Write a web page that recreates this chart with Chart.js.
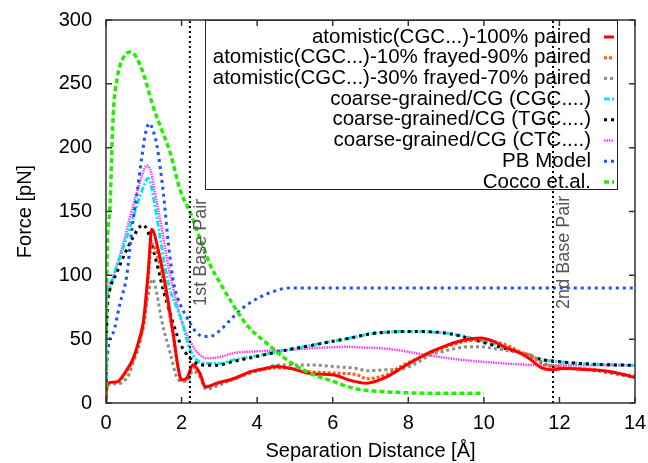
<!DOCTYPE html>
<html>
<head>
<meta charset="utf-8">
<script src="https://cdn.jsdelivr.net/npm/chart.js@4/dist/chart.umd.min.js"></script>
<style>
  html, body { margin: 0; padding: 0; background: #fff; }
  canvas { display: block; }
</style>
</head>
<body>
<canvas id="chartCanvas" width="648" height="463"></canvas>
<script>
// values (x = separation in Å, y = force in pN)
const atom100X = [0,0.03,0.28,0.55,0.72,0.9,0.99,1.12,1.21,1.39,1.61,1.79,1.92,2.0,2.14,2.3,2.49,2.63,2.93,3.37,3.82,4.2,4.53,4.9,5.41,6.03,6.43,6.9,7.4,7.88,8.2,8.59,9.0,9.3,9.6,9.92,10.2,10.54,10.98,11.24,11.53,11.8,12.08,12.8,13.36,14];
const atom100Y = [0,15.5,16.5,26,35,52,64,104,136,119,86,52,26,18,19.5,30,23,12.5,15.5,19,24.5,27,28.5,27,23,22,18,15.5,20,28.5,34,40,45,48,50,51,49,44,38.8,34,27.5,26,27,26,24.5,20];

const frayed10X = [0,0.03,0.28,0.55,0.72,0.9,1.0,1.12,1.2,1.39,1.61,1.79,1.92,2.0,2.14,2.3,2.49,2.63,2.93,3.37,3.82,4.2,4.53,4.9,5.41,6.03,6.65,6.9,7.4,7.88,8.59,9.0,9.47,9.92,10.54,10.98,11.24,11.6,12.0,12.8,13.4,14];
const frayed10Y = [0,15,16,25,34,50,62,98,125,112,82,50,25,18,19,28,22,12.5,15,18.5,24,26.5,27.5,27,24.5,23.5,22,19,22,30,39,44,48,49.3,46,40,37,30,28,26.5,24,21];

const frayed30X = [0,0.03,0.3,0.6,0.72,0.85,1.0,1.1,1.23,1.35,1.47,1.7,1.87,2.0,2.15,2.3,2.45,2.65,3.0,3.37,3.8,4.2,4.53,5.0,5.41,6.03,6.65,6.9,7.4,7.88,8.2,8.59,9.0,9.3,9.6,9.92,10.2,10.54,10.9,11.24,11.6,12.1,12.8,13.4,14];
const frayed30Y = [0,14,15,22,32,42,62,82,97,85,65,39,20.6,17,17,25,22,11,14,19,23,27,29.8,29.8,29.8,28.5,27,25.3,26,27,31,37.6,41,43,44,44,43,41.5,39.5,37.6,31,28,26,23,20];

const cgcX = [0,0.02,0.06,0.28,0.55,0.81,1.0,1.12,1.3,1.43,1.56,1.7,1.87,2.0,2.23,2.49,2.76,3.02,3.37,4.0,4.79,5.5,5.94,6.43,7.09,8.15,9.03,9.5,9.92,10.4,10.98,11.53,11.9,12.8,14];
const cgcY = [0,80,88,107,130,154,170,176,154,130,107,88,75,65,41.5,32,31,31,33.7,37,41.5,45.5,48,50.7,54.6,56,54.6,52,49,45,39.3,34,32.6,30.5,29.5];

const tgcX = [0,0.02,0.1,0.28,0.5,0.72,0.97,1.1,1.25,1.39,1.5,1.7,1.96,2.23,2.5,2.8,3.02,3.37,4.0,4.79,5.5,5.94,6.43,7.09,8.15,9.03,9.5,9.92,10.4,10.98,11.53,11.9,12.8,14];
const tgcY = [0,60,88.5,101.6,117,130,139.4,135,120,104,90,70,47,35,30,29.5,29.8,32.5,36.5,41.5,45.5,48,50.7,54.6,56,54.6,51.5,48,44,39.3,34,32.6,30.5,29.5];

const ctcX = [0,0.02,0.1,0.28,0.46,0.64,0.81,0.95,1.08,1.2,1.3,1.47,1.65,1.79,2.0,2.31,2.49,2.67,3.02,3.37,4.0,4.79,5.5,6.43,6.73,7.2,7.7,8.5,9.47,10.3,11.24,12,13,14];
const ctcY = [0,90,94,107,125,146,164,178,186,180,164,138,107,88,64,44,37.6,35,36,39,40.5,41.5,43,44,43.5,43,41.5,37.5,33.6,31.5,29.8,29.5,29.5,29.5];

const pbX = [0,0.02,0.19,0.37,0.55,0.68,0.81,0.95,1.05,1.15,1.25,1.34,1.52,1.65,1.79,1.89,2.14,2.4,2.6,2.8,3.02,3.29,3.6,4.08,4.5,4.79,5.2,6,8,10,12,14];
const pbY = [0,30,55,78,100,135,162,193,212,219,213,203,164,125,94,83,67,55,52,52.5,57,65,74,83,88,90,90,90,90,90,90,90];

const coccoX = [0,0.02,0.1,0.19,0.3,0.45,0.65,0.8,1.0,1.25,1.5,1.7,1.96,2.23,2.5,2.76,3.0,3.3,3.73,4.26,4.79,5.41,6.03,6.56,7.08,8.0,9.0,10.0];
const coccoY = [0,99,151,225,255,270,275,271,257,232,212,196,167,149,128,108,95,80,61,46.7,33.7,23.2,16.7,11.5,9.4,8,7.6,7.6];

const seriesLabels = [
    'atomistic(CGC...)-100% paired',
    'atomistic(CGC...)-10% frayed-90% paired',
    'atomistic(CGC...)-30% frayed-70% paired',
    'coarse-grained/CG (CGC....)',
    'coarse-grained/CG (TGC....)',
    'coarse-grained/CG (CTC....)',
    'PB Model',
    'Cocco et.al.'
];

const basePairX = [2.22, 11.83];
const basePairLabels = ['1st Base Pair', '2nd Base Pair'];

const xTicks = [0, 2, 4, 6, 8, 10, 12, 14];
const yTicks = [0, 50, 100, 150, 200, 250, 300];

const FONT = "'Liberation Sans', Arial, sans-serif";

function pts(xs, ys) {
    return xs.map((x, i) => ({ x: x, y: ys[i] }));
}

function series(label, xs, ys, color, width, dash, order) {
    return {
        label: label,
        data: pts(xs, ys),
        borderColor: color,
        backgroundColor: color,
        borderWidth: width,
        borderDash: dash,
        pointRadius: 0,
        fill: false,
        cubicInterpolationMode: 'monotone',
        order: order
    };
}

const datasets = [
    series(seriesLabels[0], atom100X, atom100Y, '#ff0000', 3, [], 1),
    series(seriesLabels[1], frayed10X, frayed10Y, '#ff5a14', 3, [3, 2], 3),
    series(seriesLabels[2], frayed30X, frayed30Y, '#8c8c8c', 3, [3, 3], 4),
    series(seriesLabels[3], cgcX, cgcY, '#00e8f0', 3, [6, 2, 2, 2], 6),
    series(seriesLabels[4], tgcX, tgcY, '#000000', 3, [3, 4], 5),
    series(seriesLabels[5], ctcX, ctcY, '#ff3cff', 2.5, [1.5, 1], 7),
    series(seriesLabels[6], pbX, pbY, '#1e50ff', 3, [3, 4], 2),
    series(seriesLabels[7], coccoX, coccoY, '#22ee00', 3.5, [5, 3], 0)
];

basePairX.forEach(bx => {
    datasets.push({
        label: '',
        data: [{ x: bx, y: 0 }, { x: bx, y: 300 }],
        borderColor: '#000',
        borderWidth: 2,
        borderDash: [2, 3],
        pointRadius: 0,
        order: -1
    });
});

// gnuplot-like frame: inward ticks on all four sides, legend box, base pair labels
const framePlugin = {
    id: 'frame',
    beforeDatasetsDraw(chart) {
        const ctx = chart.ctx;
        const a = chart.chartArea;
        const boxL = 205, boxR = 617, boxT = a.top, boxB = 189;
        ctx.save();
        ctx.fillStyle = '#fff';
        ctx.fillRect(boxL, boxT, boxR - boxL, boxB - boxT);
        ctx.strokeStyle = '#222';
        ctx.lineWidth = 1;
        ctx.strokeRect(boxL + 0.5, boxT + 0.5, boxR - boxL, boxB - boxT);
        ctx.font = '20.5px ' + FONT;
        ctx.textAlign = 'right';
        ctx.textBaseline = 'middle';
        ctx.fillStyle = '#000';
        for (let i = 0; i < seriesLabels.length; i++) {
            const ds = chart.data.datasets[i];
            const y = 37 + i * 20.7;
            ctx.fillText(seriesLabels[i], 591, y);
            ctx.beginPath();
            ctx.strokeStyle = ds.borderColor;
            ctx.lineWidth = ds.borderWidth;
            ctx.setLineDash(ds.borderDash);
            ctx.moveTo(604, y);
            ctx.lineTo(614, y);
            ctx.stroke();
        }
        ctx.restore();
    },
    afterDatasetsDraw(chart) {
        const ctx = chart.ctx;
        const a = chart.chartArea;
        const xs = chart.scales.x, ys = chart.scales.y;
        ctx.save();
        ctx.strokeStyle = '#333';
        ctx.lineWidth = 1.5;
        ctx.setLineDash([]);
        ctx.strokeRect(a.left, a.top, a.right - a.left, a.bottom - a.top);
        ctx.beginPath();
        xTicks.forEach(v => {
            const px = xs.getPixelForValue(v);
            ctx.moveTo(px, a.bottom); ctx.lineTo(px, a.bottom - 6);
            ctx.moveTo(px, a.top); ctx.lineTo(px, a.top + 6);
        });
        yTicks.forEach(v => {
            const py = ys.getPixelForValue(v);
            ctx.moveTo(a.left, py); ctx.lineTo(a.left + 6, py);
            ctx.moveTo(a.right, py); ctx.lineTo(a.right - 6, py);
        });
        ctx.stroke();

        ctx.fillStyle = '#555';
        ctx.font = '18px ' + FONT;
        ctx.textAlign = 'center';
        ctx.textBaseline = 'middle';
        basePairX.forEach((bx, i) => {
            const px = xs.getPixelForValue(bx) + 11;
            ctx.save();
            ctx.translate(px, ys.getPixelForValue(118));
            ctx.rotate(-Math.PI / 2);
            ctx.fillText(basePairLabels[i], 0, 0);
            ctx.restore();
        });
        ctx.restore();
    }
};

const ctx = document.getElementById('chartCanvas').getContext('2d');
const chart = new Chart(ctx, {
    type: 'line',
    data: { datasets: datasets },
    options: {
        responsive: false,
        animation: false,
        layout: { padding: { top: 20, right: 13, left: 0, bottom: 0 } },
        plugins: {
            legend: { display: false },
            tooltip: { enabled: false }
        },
        scales: {
            x: {
                type: 'linear',
                min: 0,
                max: 14,
                afterFit(scale) {
                    scale.height = 60;
                    scale.paddingLeft = 0;
                    scale.paddingRight = 0;
                },
                afterBuildTicks(scale) { scale.ticks = xTicks.map(v => ({ value: v })); },
                grid: { display: false, drawTicks: false },
                border: { display: false },
                ticks: { color: '#000', font: { family: FONT, size: 20 }, padding: 8, maxRotation: 0 },
                title: { display: true, text: 'Separation Distance [Å]', color: '#000', font: { family: FONT, size: 20 }, padding: { top: 0, bottom: 0 } }
            },
            y: {
                type: 'linear',
                min: 0,
                max: 300,
                afterFit(scale) {
                    scale.width = 106;
                    scale.paddingTop = 0;
                    scale.paddingBottom = 0;
                },
                afterBuildTicks(scale) { scale.ticks = yTicks.map(v => ({ value: v })); },
                grid: { display: false, drawTicks: false },
                border: { display: false },
                ticks: { color: '#000', font: { family: FONT, size: 20 }, padding: 14 },
                title: { display: true, text: 'Force [pN]', color: '#000', font: { family: FONT, size: 20 }, padding: { top: 13, bottom: 0 } }
            }
        }
    },
    plugins: [framePlugin]
});
</script>
</body>
</html>
